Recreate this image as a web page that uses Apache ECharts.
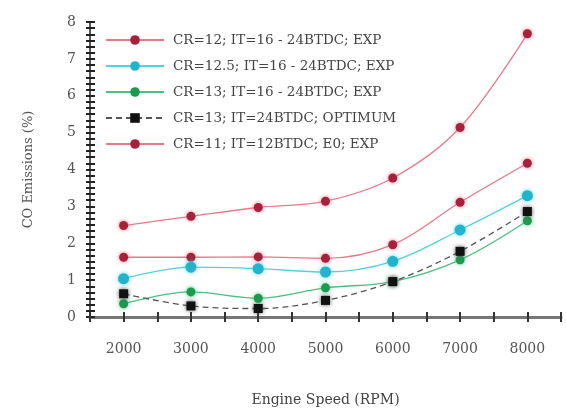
<!DOCTYPE html>
<html><head><meta charset="utf-8">
<script src="https://cdn.jsdelivr.net/npm/echarts@6/dist/echarts.min.js"></script>
<style>html,body{margin:0;padding:0;background:#fff}#c{width:566px;height:412px}</style>
</head><body><div id="c"></div>
<script>
const speeds = [2000, 3000, 4000, 5000, 6000, 7000, 8000];
const seriesNames = [
  'CR=12; IT=16 - 24BTDC; EXP',
  'CR=12.5; IT=16 - 24BTDC; EXP',
  'CR=13; IT=16 - 24BTDC; EXP',
  'CR=13; IT=24BTDC; OPTIMUM',
  'CR=11; IT=12BTDC; E0; EXP'
];
const cr12 = [1.62, 1.62, 1.63, 1.59, 1.96, 3.11, 4.17];
const cr125 = [1.04, 1.35, 1.31, 1.22, 1.51, 2.36, 3.29];
const cr13 = [0.36, 0.68, 0.51, 0.79, 0.96, 1.55, 2.61];
const cr13opt = [0.63, 0.30, 0.23, 0.45, 0.96, 1.78, 2.86];
const cr11 = [2.48, 2.73, 2.97, 3.14, 3.77, 5.14, 7.68];
const yTicks = [0, 1, 2, 3, 4, 5, 6, 7, 8];

const font = '"DejaVu Serif", "Liberation Serif", serif';
function pairs(v){ return speeds.map((s,i)=>[s, v[i]]); }
function mk(name, data, lineColor, markColor, symbol, size, dashed){
  return {
    name, type:'line', smooth:0.35, data:pairs(data),
    symbol, symbolSize:size,
    lineStyle:{color:lineColor, width:1.3, type: dashed ? [6,4] : 'solid'},
    itemStyle:{color:markColor, shadowBlur:4, shadowColor:lineColor},
    emphasis:{disabled:true}
  };
}
const xBase = {type:'value', min:1500, max:8500, interval:500, splitLine:{show:false}};
const yBase = {type:'value', min:0, max:8, interval:1, splitLine:{show:false}};
const chart = echarts.init(document.getElementById('c'), null, {renderer:'canvas'});
chart.setOption({
  animation:false,
  backgroundColor:'#fff',
  grid:{left:90, right:5, top:22, bottom:90, containLabel:false},
  legend:{
    orient:'vertical', left:100, top:28, itemGap:12,
    itemWidth:58, itemHeight:12,
    textStyle:{fontFamily:font, fontSize:13.5, color:'#444', padding:[0,0,0,4]},
    data:seriesNames
  },
  xAxis:[Object.assign({}, xBase, {
    name:'Engine Speed (RPM)', nameLocation:'middle', nameGap:76,
    nameTextStyle:{fontFamily:font, fontSize:14, color:'#444'},
    axisLine:{lineStyle:{color:'#777', width:3}},
    axisTick:{inside:false, length:5, lineStyle:{color:'#333', width:2}},
    axisLabel:{fontFamily:font, fontSize:14, color:'#555', margin:25,
      formatter:v => (v % 1000 === 0) ? String(v) : ''}
  }), Object.assign({}, xBase, {
    position:'bottom',
    axisLine:{show:false},
    axisTick:{inside:true, length:5, lineStyle:{color:'#333', width:2}},
    axisLabel:{show:false}
  })],
  yAxis:[Object.assign({}, yBase, {
    name:'CO Emissions (%)', nameLocation:'middle', nameGap:55,
    nameTextStyle:{fontFamily:font, fontSize:13, color:'#555'},
    axisLine:{show:true, lineStyle:{color:'#555', width:2}},
    axisTick:{show:true, inside:true, length:5, lineStyle:{color:'#222', width:2}},
    minorTick:{show:true, splitNumber:6, length:5, lineStyle:{color:'#222', width:2}},
    axisLabel:{fontFamily:font, fontSize:14, color:'#555', margin:14,
      formatter:v => yTicks.includes(v) ? String(v) : ''}
  }), Object.assign({}, yBase, {
    position:'left',
    axisLine:{show:false},
    axisTick:{show:true, inside:false, length:4, lineStyle:{color:'#222', width:2}},
    minorTick:{show:true, splitNumber:6, length:4, lineStyle:{color:'#222', width:2}},
    axisLabel:{show:false}
  })],
  series:[
    mk(seriesNames[0], cr12, '#e8798a', '#a8203c', 'circle', 9, false),
    mk(seriesNames[1], cr125, '#55d0e0', '#22b4cc', 'circle', 11, false),
    mk(seriesNames[2], cr13, '#4cc080', '#1e9a50', 'circle', 9, false),
    mk(seriesNames[3], cr13opt, '#555', '#111', 'rect', 9, true),
    mk(seriesNames[4], cr11, '#e8798a', '#a8203c', 'circle', 9, false)
  ]
});
</script></body></html>
